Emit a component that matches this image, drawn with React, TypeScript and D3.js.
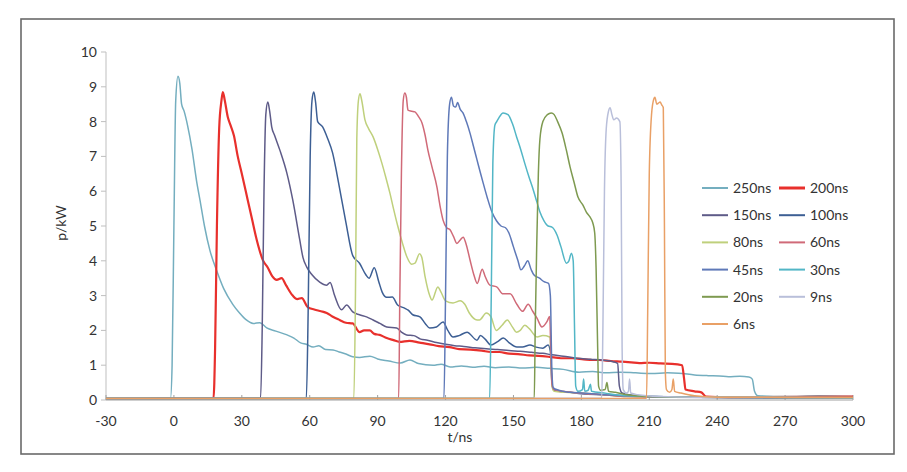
import React from "react";
import * as d3 from "d3";

type P = [number, number];

const xTicks = [-30, 0, 30, 60, 90, 120, 150, 180, 210, 240, 270, 300];
const yTicks = [0, 1, 2, 3, 4, 5, 6, 7, 8, 9, 10];

const s250: P[] = [[-30,0.04],[-1.5,0.06],[-0.8,1],[0,5],[0.8,8.6],[1.8,9.3],[2.6,9.1],[3.4,8.5],[4.5,8.3],[6,7.9],[8,7.2],[10,6.3],[11.5,5.75],[13.5,5.0],[15.9,4.3],[19,3.7],[22,3.2],[26,2.75],[29,2.5],[32,2.3],[35,2.2],[38,2.22],[41,2.07],[45,1.98],[50,1.87],[53,1.78],[56,1.64],[58.5,1.6],[61.5,1.52],[64,1.56],[67,1.45],[70.3,1.44],[73,1.38],[76,1.32],[79,1.24],[82,1.22],[86.6,1.26],[90,1.18],[95,1.12],[100,1.06],[104.3,1.15],[108,1.05],[114.5,1.0],[118,1.03],[122,0.95],[127,0.98],[132,0.94],[137,0.97],[142,0.93],[148,0.95],[154,0.92],[160,0.94],[166,0.91],[172,0.88],[179,0.8],[185,0.82],[191,0.78],[197,0.8],[204,0.78],[211,0.76],[218,0.78],[223,0.77],[230,0.72],[236,0.7],[241,0.69],[245,0.67],[250,0.68],[254,0.66],[255.5,0.6],[256.5,0.25],[258,0.12],[270,0.1],[285,0.12],[300,0.1]];

const s200: P[] = [[-30,0.03],[17.5,0.05],[18.2,1.5],[19,5],[20,7.8],[21,8.6],[21.6,8.85],[22.5,8.6],[23.8,8.13],[25,7.9],[26.5,7.6],[28.2,7.0],[30,6.5],[32.6,5.75],[34.5,5.2],[36.6,4.6],[39.3,4.02],[41.5,3.8],[43.5,3.55],[45.4,3.45],[47.6,3.5],[49.5,3.3],[52.5,3.0],[54.5,2.9],[56.5,2.93],[59.1,2.67],[62,2.6],[65,2.55],[67.5,2.5],[70,2.4],[73.2,2.3],[76,2.22],[79,2.2],[82,1.95],[84,2.0],[86.5,2.0],[88.5,1.9],[90.9,1.87],[94,1.78],[97,1.72],[99.7,1.67],[104,1.7],[108.5,1.65],[113,1.6],[117,1.55],[121.8,1.52],[126,1.46],[131,1.45],[136,1.42],[140,1.38],[143.8,1.38],[148,1.33],[152,1.32],[157,1.28],[161,1.27],[165.9,1.24],[171,1.2],[176,1.2],[181,1.17],[185,1.15],[188,1.15],[193,1.12],[198,1.1],[202,1.08],[205.6,1.06],[210,1.07],[215,1.05],[220,1.04],[224.5,1.0],[225.4,0.6],[226,0.3],[230,0.25],[233,0.22],[235,0.1],[245,0.08],[300,0.1]];

const s150: P[] = [[-30,0.05],[38.3,0.06],[39,2],[39.8,6],[40.6,8.2],[41.5,8.56],[42.3,8.3],[43.2,7.85],[44.5,7.6],[46.8,7.18],[49.9,6.52],[52.5,5.75],[55.6,4.6],[57,4.1],[58.7,3.82],[61,3.6],[64.4,3.39],[67.5,3.3],[69,3.38],[71,3.0],[74.1,2.59],[76.3,2.73],[79,2.53],[82,2.45],[85.1,2.39],[88,2.3],[91,2.2],[94,2.1],[98.4,2.07],[100.5,1.95],[102.8,1.87],[106,1.85],[109,1.75],[112,1.72],[116,1.65],[120,1.6],[124,1.56],[128,1.54],[133,1.5],[138,1.47],[143,1.45],[148,1.42],[153,1.4],[158,1.37],[163,1.34],[167,1.3],[172,1.26],[178,1.2],[184,1.17],[190,1.14],[194,1.1],[196,1.05],[196.8,0.4],[198,0.2],[205,0.12],[220,0.08],[300,0.06]];

const s100: P[] = [[-30,0.03],[58.5,0.05],[59.3,2.5],[60.2,7],[61,8.6],[61.8,8.85],[62.6,8.55],[63.5,8.0],[65.7,7.85],[68,7.5],[70.1,7.1],[72,6.5],[73.7,5.9],[76,5.1],[79,4.15],[82,3.93],[84.8,3.6],[86.2,3.5],[88.5,3.8],[90.5,3.4],[92,3.1],[94,2.95],[96.5,2.96],[98.8,2.73],[101.9,2.64],[103.5,2.58],[105.5,2.45],[108.7,2.39],[111,2.2],[113,2.07],[116,2.1],[118.9,2.24],[121,2.0],[123.3,1.81],[126,1.85],[129.5,1.95],[133.9,1.72],[135.4,1.85],[137.5,1.75],[140,1.58],[143,1.68],[145.5,1.78],[148,1.65],[151.5,1.52],[154,1.52],[157.3,1.58],[160,1.52],[163,1.49],[165.3,1.58],[166.3,1.4],[167,0.5],[167.6,0.3],[170,0.25],[175,0.22],[180,0.18],[190,0.15],[200,0.12],[230,0.08],[300,0.06]];

const s80: P[] = [[-30,0.04],[79.5,0.05],[80.2,3],[80.8,7.5],[81.5,8.6],[82.2,8.8],[83,8.6],[84.4,8.05],[86,7.8],[88,7.56],[90,7.2],[91.9,6.8],[93.6,6.4],[95.4,5.95],[97,5.5],[99,4.97],[101,4.5],[103,4.1],[105,3.9],[106.5,3.93],[108.5,4.2],[109.5,4.1],[111,3.53],[113,3.0],[114,2.87],[116.6,3.25],[118,3.1],[120,2.85],[123.3,2.79],[126.5,2.85],[128.5,2.75],[130.5,2.5],[133.9,2.3],[135,2.3],[138,2.5],[140,2.4],[142.4,2.0],[145,2.15],[147.3,2.3],[149.5,2.1],[151.3,1.95],[153,2.0],[155,2.15],[157,2.05],[160.4,1.81],[163,1.85],[166,1.81],[166.6,1.2],[167,0.4],[168,0.25],[173,0.22],[180,0.2],[190,0.15],[200,0.1],[230,0.08],[300,0.06]];

const s60: P[] = [[-30,0.04],[99.3,0.05],[99.8,3],[100.5,6.5],[101.3,8.6],[102,8.82],[102.7,8.7],[103.4,8.33],[105,8.3],[106.5,8.28],[108,8.15],[109.6,7.96],[111,7.6],[112.2,7.18],[114,6.7],[116.2,6.12],[117.5,5.6],[118.9,5.17],[120.5,4.95],[122,4.89],[123.5,4.7],[125,4.5],[126.5,4.6],[127.8,4.68],[129,4.5],[130.9,4.0],[132.5,3.6],[134,3.35],[136.2,3.76],[137.5,3.55],[139.6,3.3],[142.6,3.25],[145.4,3.05],[148.5,3.05],[151.5,2.75],[154,2.55],[156.5,2.75],[158.5,2.55],[160.4,2.35],[162.6,2.1],[164.8,2.25],[166,2.4],[166.6,1.2],[167,0.45],[168,0.3],[172,0.25],[178,0.2],[190,0.15],[200,0.1],[230,0.08],[300,0.06]];

const s45: P[] = [[-30,0.04],[119.3,0.05],[120,3],[120.8,7],[121.8,8.5],[122.6,8.7],[123.5,8.45],[124.5,8.42],[125.3,8.55],[126.5,8.35],[127.7,8.25],[129.2,8.0],[130.8,7.67],[132.3,7.3],[133.9,6.9],[135.3,6.55],[136.6,6.24],[138.5,5.8],[140.5,5.4],[142.5,5.15],[144.5,5.0],[146.5,4.95],[148,4.8],[150,4.4],[152,4.0],[153.3,3.74],[154.8,3.85],[156.3,4.0],[157.8,3.75],[159,3.6],[161.5,3.5],[163.5,3.4],[165.5,3.35],[166.3,3.0],[167,0.8],[167.6,0.35],[170,0.28],[175,0.22],[180,0.2],[190,0.15],[200,0.12],[230,0.08],[300,0.06]];

const s30: P[] = [[-30,0.04],[139.5,0.05],[140.2,3],[140.9,6.8],[141.8,7.9],[142.6,8.0],[143.5,8.1],[145.4,8.25],[147.6,8.2],[149.5,7.95],[151.4,7.56],[153.2,7.2],[155,6.8],[156.9,6.4],[158.8,6.03],[160.3,5.7],[161.7,5.4],[163.5,5.15],[165.3,5.0],[167,4.97],[169.2,4.75],[171,4.4],[173.4,3.93],[174.5,4.0],[175.6,4.22],[176.4,4.0],[177,2],[177.5,0.4],[178.5,0.25],[180.5,0.3],[181,0.6],[181.5,0.25],[183,0.28],[184,0.45],[184.5,0.25],[190,0.2],[200,0.12],[230,0.08],[300,0.06]];

const s20: P[] = [[-30,0.04],[159.2,0.05],[159.6,2],[160.3,4.5],[161,6.5],[161.7,7.5],[163,8.0],[165,8.2],[166.7,8.25],[168,8.2],[169.5,8.0],[171.5,7.67],[173.3,7.2],[175,6.7],[176.8,6.25],[178.5,5.83],[180.7,5.6],[182.2,5.4],[183.8,5.26],[185,5.1],[185.9,4.8],[186.5,3.8],[187.2,1.5],[187.6,0.4],[188.5,0.28],[190.5,0.3],[191.3,0.5],[192,0.25],[195,0.22],[200,0.15],[210,0.1],[230,0.08],[300,0.07]];

const s9: P[] = [[-30,0.04],[189,0.05],[189.5,2],[190.2,6],[191,7.8],[192,8.3],[192.7,8.4],[193.5,8.2],[194.3,8.05],[195.5,8.1],[197,8.0],[197.6,6],[198,1.5],[198.5,0.3],[200,0.2],[200.8,0.25],[201.3,0.6],[201.8,0.2],[205,0.15],[215,0.1],[230,0.08],[300,0.07]];

const s6: P[] = [[-30,0.04],[208.8,0.05],[209.3,2.5],[210,6.5],[211,8.2],[212,8.65],[212.5,8.7],[213.3,8.5],[214,8.53],[214.8,8.56],[215.5,8.48],[216.2,8.4],[216.7,5],[217.1,0.8],[217.6,0.3],[219,0.22],[220,0.3],[220.6,0.6],[221.2,0.25],[224,0.2],[230,0.12],[240,0.08],[300,0.07]];

const seriesNames = ["250ns", "200ns", "150ns", "100ns", "80ns", "60ns", "45ns", "30ns", "20ns", "9ns", "6ns"];
const seriesData = [s250, s200, s150, s100, s80, s60, s45, s30, s20, s9, s6];
const seriesColors = ["#74aebf", "#e8302c", "#5e5b88", "#3d5f94", "#bfd07c", "#d06a78", "#5f79b8", "#52b6c6", "#7e9a50", "#b9bfda", "#e9a066"];

const FONT = "Lato, 'Open Sans', sans-serif";

export default function App() {
  const left = 106, right = 853, top = 52, bottom = 400;
  const x = d3.scaleLinear().domain([-30, 300]).range([left, right]);
  const y = d3.scaleLinear().domain([0, 10]).range([bottom, top]);
  const line = d3.line<P>().x((d) => x(d[0])).y((d) => y(d[1])).curve(d3.curveMonotoneX);

  const legX = [702, 779];
  const legY0 = 188, legDy = 27.2;

  return (
    <svg width={907} height={472} style={{ position: "absolute", left: 0, top: 0, background: "#fff" }} fontFamily={FONT}>
      <rect x={0} y={0} width={907} height={472} fill="#fff" />
      <rect x={21} y={19} width={873} height={435} fill="#fff" stroke="#6a6a6a" strokeWidth={1.6} />
      <line x1={left} x2={left} y1={top} y2={bottom} stroke="#bfbfbf" strokeWidth={1} />
      {yTicks.map((t) => (
        <g key={"y" + t}>
          <line x1={left - 5} x2={left} y1={y(t)} y2={y(t)} stroke="#bfbfbf" />
          <text x={97} y={y(t)} dy="0.35em" textAnchor="end" fontSize={14} fill="#333">{t}</text>
        </g>
      ))}
      {xTicks.map((t) => (
        <g key={"x" + t}>
          <line x1={x(t)} x2={x(t)} y1={bottom - 5} y2={bottom} stroke="#a0a0a0" />
          <text x={x(t)} y={426} textAnchor="middle" fontSize={14} fill="#333">{t}</text>
        </g>
      ))}
      <text x={460} y={442} textAnchor="middle" fontSize={14} fill="#333">t/ns</text>
      <text transform="translate(66,223) rotate(-90)" textAnchor="middle" fontSize={14} fill="#333">p/kW</text>
      {seriesData.map((d, i) => (
        <path key={seriesNames[i]} d={line(d) || ""} fill="none" stroke={seriesColors[i]}
          strokeWidth={i === 1 ? 2.2 : 1.5} strokeLinejoin="round" />
      ))}
      <line x1={left} x2={right} y1={bottom} y2={bottom} stroke="#a0a0a0" strokeWidth={1} />
      {seriesNames.map((n, i) => {
        const col = i % 2, row = Math.floor(i / 2);
        const lx = legX[col], ly = legY0 + row * legDy;
        return (
          <g key={"leg" + n}>
            <line x1={lx} x2={lx + 26} y1={ly} y2={ly} stroke={seriesColors[i]} strokeWidth={i === 1 ? 3 : 2} />
            <text x={lx + 31} y={ly} dy="0.35em" fontSize={14} fill="#333">{n}</text>
          </g>
        );
      })}
    </svg>
  );
}
